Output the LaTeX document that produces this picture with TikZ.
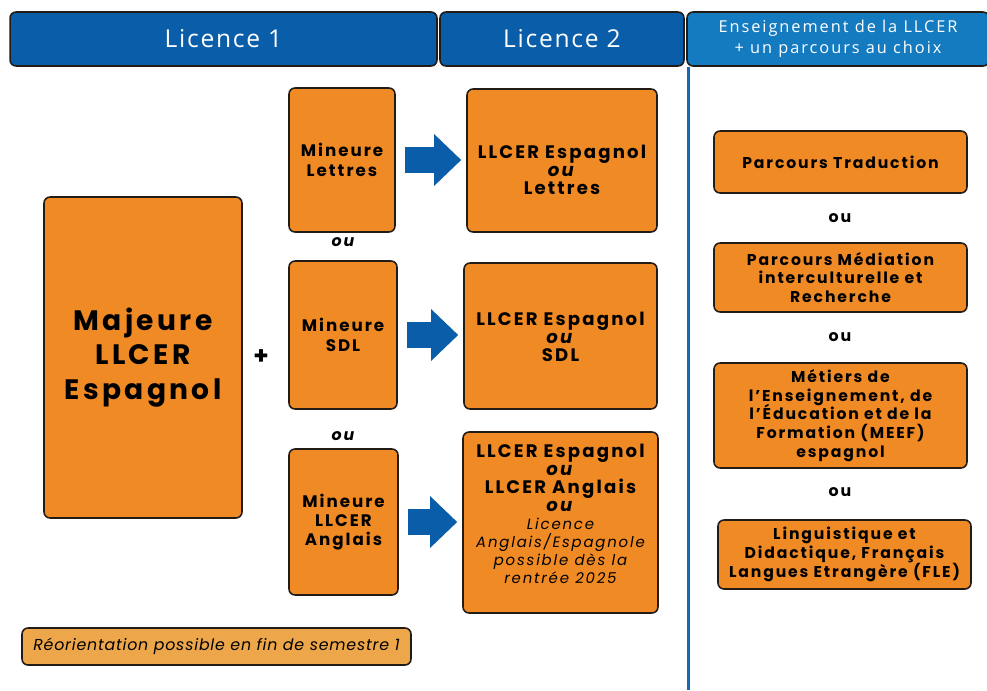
\documentclass[tikz,border=0pt]{standalone}
\usepackage{fontspec}
\setmainfont{Poppins}[LetterSpace=12]
\newfontfamily\notefont{Poppins}[LetterSpace=5]
\newfontfamily\hdfont{Open Sans}[LetterSpace=7]
\newfontfamily\hdsmallfont{Open Sans}[LetterSpace=12]
\usepackage{xcolor}
\usepackage{tikz}
\usetikzlibrary{arrows.meta}
\setlength{\lineskiplimit}{-5pt}

\definecolor{hdblue}{RGB}{10,93,168}
\definecolor{hdlight}{RGB}{20,123,193}
\definecolor{sepblue}{RGB}{24,104,184}
\definecolor{boxorange}{RGB}{240,138,36}
\definecolor{noteorange}{RGB}{237,167,74}
\definecolor{edge}{RGB}{35,28,22}
\newcommand\smallit{\fontsize{8.5}{10.2}\selectfont\mdseries\itshape}

\begin{document}
\begin{tikzpicture}[x=0.02cm, y=-0.02cm,
	head/.style={draw=edge, line width=0.9pt, fill=hdblue, rounded corners=0.12cm, minimum height=1.08cm, inner sep=0pt, text=white, font=\hdfont\fontsize{14}{16}\selectfont},
	obox/.style={draw=edge, line width=0.9pt, fill=boxorange, rounded corners=0.12cm, inner sep=0pt, align=center, font=\bfseries\fontsize{10.3}{10.2}\selectfont},
	ltext/.style={align=center, inner sep=0pt, font=\bfseries\fontsize{10.3}{10.2}\selectfont},
	minbox/.style={obox, font=\bfseries\fontsize{9.5}{11}\selectfont},
	parbox/.style={obox, minimum width=5.06cm, font=\bfseries\fontsize{8.9}{10.6}\selectfont},
	orword/.style={font=\bfseries\itshape\fontsize{9}{10}\selectfont},
	orright/.style={font=\bfseries\fontsize{9}{10}\selectfont},
	bigarrow/.style={draw=hdblue, line width=0.52cm, -{Triangle[width=1cm, length=0.54cm]}, shorten <=0.18cm, shorten >=0.1cm}]
	\useasboundingbox (0,0) rectangle (987,690);
	\clip (0,0) rectangle (987,690);
	\node[head, minimum width=8.54cm] (hd1) at (223.5,39) {Licence 1};
	\node[head, minimum width=4.88cm] (hd2) at (562,39) {Licence 2};
	\node[head, fill=hdlight, minimum width=6.04cm, align=center, font=\hdsmallfont\fontsize{9.3}{11.7}\selectfont] (hd3) at (838,39) {Enseignement de la LLCER\\+ un parcours au choix};
	\draw[sepblue, line width=1.7pt] (688,67) -- (688,690);
	\node[obox, minimum width=3.96cm, minimum height=6.42cm, font=\bfseries\fontsize{16}{19.8}\selectfont] (maj) at (143,357.5) {Majeure\\LLCER\\Espagnol};
	\node[font=\bfseries\fontsize{14}{16}\selectfont] (plus) at (261,357) {+};
	\node[minbox, minimum width=2.12cm, minimum height=2.88cm] (min1) at (342,160) {Mineure\\Lettres};
	\node[minbox, minimum width=2.16cm, minimum height=2.96cm] (min2) at (343,335) {Mineure\\SDL};
	\node[minbox, minimum width=2.18cm, minimum height=2.92cm] (min3) at (343.5,522) {Mineure\\LLCER\\Anglais};
	\node[orword] (ou1) at (343,242) {ou};
	\node[orword] (ou2) at (343,436) {ou};
	\node[obox, minimum width=3.80cm, minimum height=2.86cm] (l1) at (562,160.5) {};
	\node[ltext] (l1txt) at (562,170) {LLCER Espagnol\\\textit{ou}\\Lettres};
	\node[obox, minimum width=3.86cm, minimum height=2.92cm] (l2) at (560.5,336) {};
	\node[ltext] (l2txt) at (560.5,337) {LLCER Espagnol\\\textit{ou}\\SDL};
	\node[obox, minimum width=3.90cm, minimum height=3.62cm] (l3) at (560.5,522.5) {};
	\node[ltext] (l3txt) at (560.5,514) {LLCER Espagnol\\\textit{ou}\\LLCER Anglais\\\textit{ou}\\\smallit Licence\\\smallit Anglais/Espagnole\\\smallit possible dès la\\\smallit rentrée 2025};
	\draw[bigarrow] (min1.east) -- (min1.east -| l1.west);
	\draw[bigarrow] (min2.east) -- (min2.east -| l2.west);
	\draw[bigarrow] (min3.east) -- (min3.east -| l3.west);
	\node[parbox, minimum height=1.24cm] (p1) at (840.5,162) {Parcours Traduction};
	\node[orright] (ou3) at (840,218) {ou};
	\node[parbox, minimum height=1.38cm] (p2) at (840.5,277.5) {Parcours Médiation\\interculturelle et\\Recherche};
	\node[orright] (ou4) at (840,337) {ou};
	\node[parbox, minimum height=2.10cm] (p3) at (840.5,415.5) {Métiers de\\l’Enseignement, de\\l’Éducation et de la\\Formation (MEEF)\\espagnol};
	\node[orright] (ou5) at (840,492) {ou};
	\node[parbox, minimum height=1.38cm] (p4) at (844.5,554.5) {Linguistique et\\Didactique, Français\\Langues Etrangère (FLE)};
	\node[obox, fill=noteorange, minimum width=7.78cm, minimum height=0.74cm, font=\notefont\itshape\fontsize{9}{10}\selectfont] (note) at (216.5,646.5) {Réorientation possible en fin de semestre 1};
\end{tikzpicture}
\end{document}
